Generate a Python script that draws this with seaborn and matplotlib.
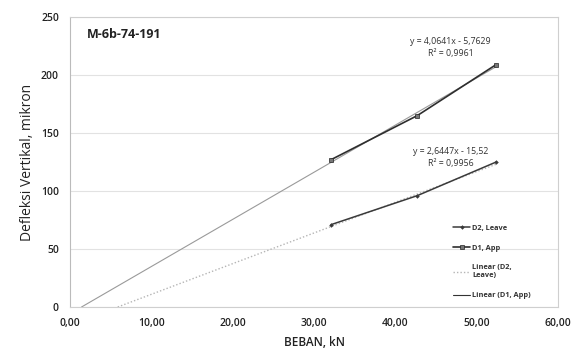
import numpy as np
import pandas as pd
import matplotlib
matplotlib.use("Agg")
import matplotlib.pyplot as plt
import seaborn as sns

# ---- data ----
beban = [32.1, 42.7, 52.4]
d2_leave = [71, 96, 125]
d1_app = [127, 165, 209]
trend_names = ["Linear (D2,\nLeave)", "Linear (D1, App)"]
trend_slope = [2.6447, 4.0641]
trend_icept = [-15.52, -5.7629]
eq_labels = ["y = 2,6447x - 15,52\nR² = 0,9956", "y = 4,0641x - 5,7629\nR² = 0,9961"]
x_ticks = [0, 10, 20, 30, 40, 50, 60]
y_ticks = [0, 50, 100, 150, 200, 250]
title = "M-6b-74-191"

sns.set_theme(style="white")
plt.rcParams['font.family'] = ['Open Sans', 'DejaVu Sans']

fig = plt.figure(figsize=(5.79, 3.49), dpi=100)
ax = fig.add_axes([70/579, 1-307/349, (558-70)/579, (307-17)/349])

df = pd.DataFrame({"x": beban * 2,
                   "y": d2_leave + d1_app,
                   "s": ["D2, Leave"] * 3 + ["D1, App"] * 3})

# trendlines (from y=0 intercept to last load)
tstyles = [dict(color="#b5b5b5", ls=(0, (1, 1.5)), lw=1.0),
           dict(color="#9a9a9a", ls="-", lw=0.8)]
tlines = []
for name, m, b, st in zip(trend_names, trend_slope, trend_icept, tstyles):
    x0 = -b / m
    xs = np.array([x0, beban[-1]])
    sns.lineplot(x=xs, y=m * xs + b, ax=ax, color=st["color"], lw=st["lw"],
                 linestyle=st["ls"], zorder=2, legend=False)
    tlines.append(ax.lines[-1])

sns.lineplot(data=df[df.s == "D2, Leave"], x="x", y="y", ax=ax, color="#3a3a3a",
             lw=1.1, marker="D", markersize=2.3, markeredgewidth=0, zorder=3, legend=False)
l_d2 = ax.lines[-1]
sns.lineplot(data=df[df.s == "D1, App"], x="x", y="y", ax=ax, color="#2e2e2e",
             lw=1.2, marker="s", markersize=3.2, markeredgewidth=0.5,
             markerfacecolor="#777777", markeredgecolor="#222222", zorder=3, legend=False)
l_d1 = ax.lines[-1]

ax.set_xlim(0, 60)
ax.set_ylim(0, 250)
ax.set_xticks(x_ticks)
ax.set_xticklabels([f"{v:.2f}".replace(".", ",") for v in x_ticks], fontsize=7.5,
                   color="#222222", fontweight="semibold")
ax.set_yticks(y_ticks)
ax.set_yticklabels([str(v) for v in y_ticks], fontsize=7.5, color="#222222",
                   fontweight="semibold")
ax.tick_params(axis="x", length=0, pad=8)
ax.tick_params(axis="y", length=0, pad=8)
ax.grid(axis="y", color="#e2e2e2", lw=0.8)
ax.grid(axis="x", visible=False)
for sp in ax.spines.values():
    sp.set_color("#cfcfcf")
    sp.set_linewidth(0.8)
ax.spines["left"].set_color("#bbbbbb")

ax.set_xlabel("BEBAN, kN", fontsize=8.5, color="#222222", labelpad=5, fontweight="semibold")
ax.set_ylabel("Defleksi Vertikal, mikron", fontsize=10, color="#222222", labelpad=4)

ax.text(0.035, 0.94, title, transform=ax.transAxes, fontsize=9, fontweight="bold",
        color="#222222", va="center", ha="left")

ax.annotate(eq_labels[1], xy=(46.8, 224), ha="center", va="center", fontsize=6.3,
            color="#333333", linespacing=1.45)
ax.annotate(eq_labels[0], xy=(46.8, 129), ha="center", va="center", fontsize=6.3,
            color="#333333", linespacing=1.45)

leg = ax.legend([l_d2, l_d1, tlines[0], tlines[1]],
                ["D2, Leave", "D1, App", trend_names[0], trend_names[1]],
                loc="upper left", bbox_to_anchor=(0.785, 0.285), frameon=False,
                fontsize=5.3, handlelength=2.3, handletextpad=0.3, labelspacing=1.75,
                borderaxespad=0, borderpad=0)
for t in leg.get_texts():
    t.set_fontweight("bold")
    t.set_color("#333333")
leg.legend_handles[3].set_color("#333333")

fig.savefig("out.png", dpi=100)
